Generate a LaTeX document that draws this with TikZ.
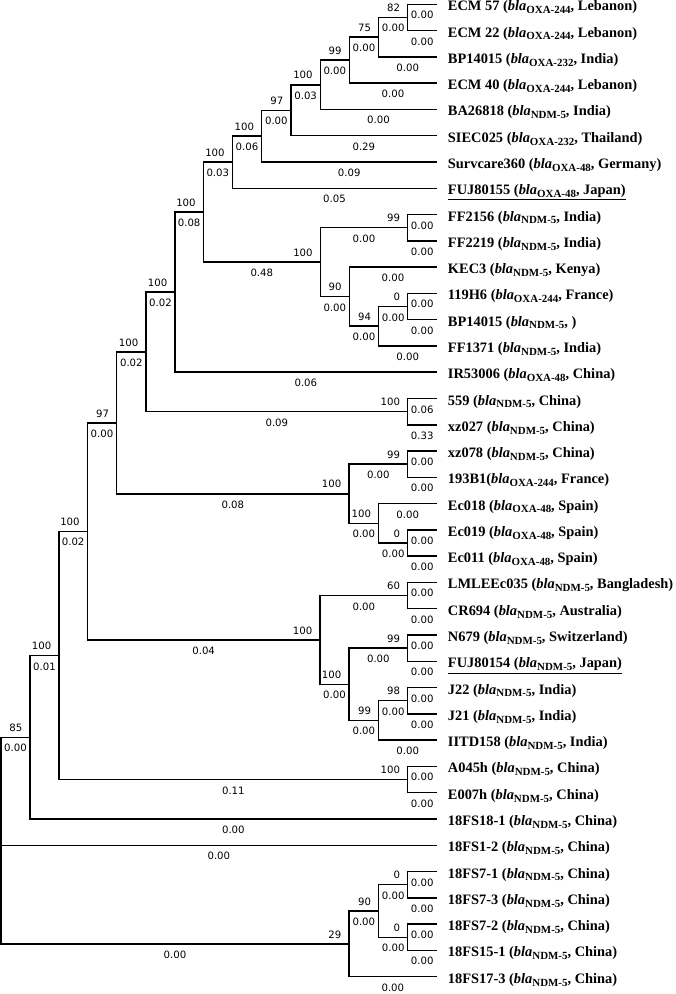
\documentclass[tikz,border=0pt]{standalone}
\usepackage{fontspec}
\setmainfont{Liberation Serif}
\newfontfamily\numfont{DejaVu Sans}
\newcommand\bla[1]{\textit{bla}\raisebox{-2.1pt}{\fontsize{8.2}{9}\selectfont #1}}
\tikzset{phylo/.style={x=0.75pt,y=-0.75pt,line width=1.1pt},
  bl/.style={pos=.75,anchor=base,inner sep=0pt,yshift=-10.9pt,font=\numfont\fontsize{7.6}{9}\selectfont},
  bs/.style={anchor=base east,inner sep=0pt,xshift=-5.2pt,yshift=4.35pt,font=\numfont\fontsize{7.6}{9}\selectfont},
  leaf/.style={anchor=base west,inner sep=0pt,xshift=7.9pt,yshift=-4.9pt,font=\bfseries\fontsize{10.8}{12}\selectfont}}

\begin{document}
\begin{tikzpicture}[phylo]
    \useasboundingbox (0,0) rectangle (675,994);
    % tips
    \foreach \i/\txt in {0/{ECM 57 (\bla{OXA-244}, Lebanon)}, 1/{ECM 22 (\bla{OXA-244}, Lebanon)},
        2/{BP14015 (\bla{OXA-232}, India)}, 3/{ECM 40 (\bla{OXA-244}, Lebanon)},
        4/{BA26818 (\bla{NDM-5}, India)}, 5/{SIEC025 (\bla{OXA-232}, Thailand)},
        6/{Survcare360 (\bla{OXA-48}, Germany)}, 7/{\underline{FUJ80155 (\bla{OXA-48}, Japan)}},
        8/{FF2156 (\bla{NDM-5}, India)}, 9/{FF2219 (\bla{NDM-5}, India)},
        10/{KEC3 (\bla{NDM-5}, Kenya)}, 11/{119H6 (\bla{OXA-244}, France)},
        12/{BP14015 (\bla{NDM-5}, )}, 13/{FF1371 (\bla{NDM-5}, India)},
        14/{IR53006 (\bla{OXA-48}, China)}, 15/{559 (\bla{NDM-5}, China)},
        16/{xz027 (\bla{NDM-5}, China)}, 17/{xz078 (\bla{NDM-5}, China)},
        18/{193B1(\bla{OXA-244}, France)}, 19/{Ec018 (\bla{OXA-48}, Spain)},
        20/{Ec019 (\bla{OXA-48}, Spain)}, 21/{Ec011 (\bla{OXA-48}, Spain)},
        22/{LMLEEc035 (\bla{NDM-5}, Bangladesh)}, 23/{CR694 (\bla{NDM-5}, Australia)},
        24/{N679 (\bla{NDM-5}, Switzerland)}, 25/{\underline{FUJ80154 (\bla{NDM-5}, Japan)}},
        26/{J22 (\bla{NDM-5}, India)}, 27/{J21 (\bla{NDM-5}, India)},
        28/{IITD158 (\bla{NDM-5}, India)}, 29/{A045h (\bla{NDM-5}, China)},
        30/{E007h (\bla{NDM-5}, China)}, 31/{18FS18-1 (\bla{NDM-5}, China)},
        32/{18FS1-2 (\bla{NDM-5}, China)}, 33/{18FS7-1 (\bla{NDM-5}, China)},
        34/{18FS7-3 (\bla{NDM-5}, China)}, 35/{18FS7-2 (\bla{NDM-5}, China)},
        36/{18FS15-1 (\bla{NDM-5}, China)}, 37/{18FS17-3 (\bla{NDM-5}, China)}}
    {
        \coordinate (l\i) at (436.7,{4.3+26.28*\i});
        \node[leaf] (t\i) at (l\i) {\txt};
    }
    % inner nodes
    \foreach \n/\x/\y in {a82/407.7/17.44, a75/378.7/37.15, a99/349.3/60.15, a100/320.3/84.78,
        a97/291/110.24, a100b/261.7/136.11, a100c/232.3/162.19,
        f99/407.7/227.68, f0/407.7/306.52, f94/378.7/326.23, f90/349.3/296.67, f100/320.3/262.18,
        b100/203.3/212.18, c100/175/292.2, s100/407.7/411.64, d100/146/351.92,
        x99/407.7/464.2, x0/407.7/543.04, x100/378.7/523.33, xr/349/493.77, e97/116.7/422.84,
        m60/407.7/595.6, m99/407.7/648.16, m98/407.7/700.72, m99b/378.7/720.43, m100/349/684.3,
        mr/320/639.95, g100/87.3/531.4, ae/407.7/779.56, h100/59/655.48, k85/30/737.23,
        z0a/407.7/884.68, z0b/407.7/937.24, z90/378.7/910.96, z29/349/943.81, root/1/840.52}
        \coordinate (\n) at (\x,\y);
    % tip branches
    \foreach \p/\c/\b in {a82/l0/0.00, a82/l1/0.00, a75/l2/0.00, a99/l3/0.00, a100/l4/0.00,
        a97/l5/0.29, a100b/l6/0.09, a100c/l7/0.05, f99/l8/0.00, f99/l9/0.00, f90/l10/0.00,
        f0/l11/0.00, f0/l12/0.00, f94/l13/0.00, c100/l14/0.06, s100/l15/0.06, s100/l16/0.33,
        x99/l17/0.00, x99/l18/0.00, x100/l19/0.00, x0/l20/0.00, x0/l21/0.00, m60/l22/0.00,
        m60/l23/0.00, m99/l24/0.00, m99/l25/0.00, m98/l26/0.00, m98/l27/0.00, m99b/l28/0.00,
        ae/l29/0.00, ae/l30/0.00, k85/l31/0.00, root/l32/0.00, z0a/l33/0.00, z0a/l34/0.00,
        z0b/l35/0.00, z0b/l36/0.00, z29/l37/0.00}
        \draw (\p) |- node[bl] {\b} (\c);
    % inner branches with bootstrap values
    \foreach \p/\c/\b/\s in {a75/a82/0.00/82, a99/a75/0.00/75, a100/a99/0.00/99,
        a97/a100/0.03/100, a100b/a97/0.00/97, a100c/a100b/0.06/100, b100/a100c/0.03/100,
        f94/f0/0.00/0, f90/f94/0.00/94, f100/f99/0.00/99, f100/f90/0.00/90, b100/f100/0.48/100,
        c100/b100/0.08/100, d100/c100/0.02/100, d100/s100/0.09/100, e97/d100/0.02/100,
        xr/x99/0.00/99, x100/x0/0.00/0, xr/x100/0.00/100, e97/xr/0.08/100, g100/e97/0.00/97,
        m99b/m98/0.00/98, m100/m99/0.00/99, m100/m99b/0.00/99, mr/m60/0.00/60,
        mr/m100/0.00/100, g100/mr/0.04/100, h100/g100/0.02/100, h100/ae/0.11/100,
        k85/h100/0.01/100, root/k85/0.00/85, z90/z0a/0.00/0, z90/z0b/0.00/0,
        z29/z90/0.00/90, root/z29/0.00/29}
        \draw (\p) |- node[bl] {\b} (\c) node[bs] {\s};
\end{tikzpicture}
\end{document}
